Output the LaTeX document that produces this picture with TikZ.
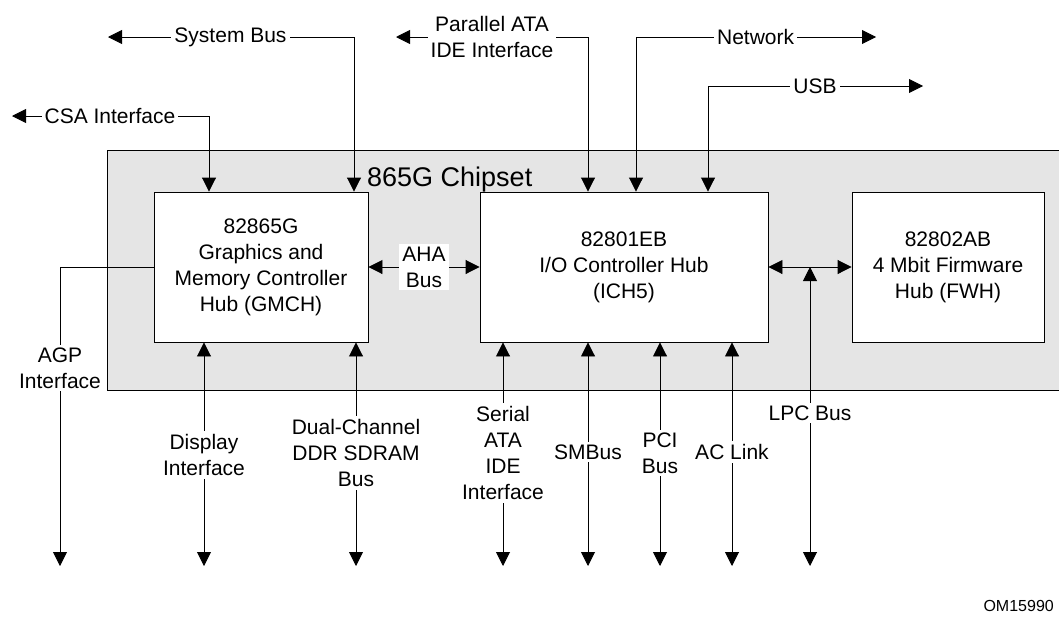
\documentclass[tikz,border=0pt]{standalone}
\usepackage{fontspec}
\setmainfont{Liberation Sans}
\usetikzlibrary{arrows.meta}
\definecolor{chipgray}{gray}{0.9}
\begin{document}
\begin{tikzpicture}[x=1pt,y=-1pt,
  conn/.style={line width=0.9pt, draw=black},
  tipend/.style={-{Triangle[length=14pt,width=14pt]}},
  dtip/.style={{Triangle[length=14pt,width=14pt]}-{Triangle[length=14pt,width=14pt]}},
  chip/.style={draw=black, line width=0.9pt, fill=white, align=center,
    font=\fontsize{21}{26}\selectfont, minimum height=150pt, inner sep=0pt},
  lbl/.style={fill=white, align=center, font=\fontsize{21}{26}\selectfont, inner sep=3pt},
]
\useasboundingbox (0,0) rectangle (1059,619);

% chipset region
\fill[chipgray] (107,150) rectangle (1059,390);
\draw[conn] (1059,150) -- (107,150) -- (107,390) -- (1059,390);
\node[font=\fontsize{27}{32}\selectfont, anchor=base west, inner sep=0pt] (title) at (367,186) {865G Chipset};

% chips
\node[chip, minimum width=214pt] (gmch) at (261,267) {82865G\\Graphics and\\Memory Controller\\Hub (GMCH)};
\node[chip, minimum width=288pt] (ich) at (624,267) {82801EB\\I/O Controller Hub\\(ICH5)};
\node[chip, minimum width=192pt] (fwh) at (948,267) {82802AB\\4 Mbit Firmware\\Hub (FWH)};

% top connectors
\coordinate (csaE) at (12,116);
\coordinate (csaK) at (209,116);
\draw[conn,dtip] (csaE) -- (csaK) -- (csaK |- gmch.north);
\node[lbl] (csa) at (110,116) {CSA Interface};

\coordinate (sysE) at (108,37);
\coordinate (sysK) at (354,37);
\draw[conn,dtip] (sysE) -- (sysK) -- (sysK |- gmch.north);
\node[lbl] (sys) at (230.5,37) {System Bus};

\coordinate (pataE) at (396,37);
\coordinate (pataK) at (588,37);
\draw[conn,dtip] (pataE) -- (pataK) -- (pataK |- ich.north);
\node[lbl] (pata) at (492,36.5) {Parallel ATA\\IDE Interface};

\coordinate (netE) at (876,37);
\coordinate (netK) at (636,37);
\draw[conn,dtip] (netE) -- (netK) -- (netK |- ich.north);
\node[lbl] (net) at (755.6,37) {Network};

\coordinate (usbE) at (923,86);
\coordinate (usbK) at (708,86);
\draw[conn,dtip] (usbE) -- (usbK) -- (usbK |- ich.north);
\node[lbl] (usb) at (815,86) {USB};

% inner buses
\draw[conn,dtip] (gmch.east) -- (ich.west);
\node[lbl] (aha) at (424,267) {AHA\\Bus};

\draw[conn,dtip] (ich.east) -- (fwh.west);
\coordinate (lpcE) at (810,566);
\draw[conn,dtip] (lpcE) -- (lpcE |- ich.east);
\node[lbl] (lpc) at (810,413) {LPC Bus};

% AGP
\coordinate (agpK) at (60,267);
\coordinate (agpE) at (60,566);
\draw[conn,tipend] (gmch.west) -- (agpK) -- (agpE);
\node[lbl] (agp) at (60,368) {AGP\\Interface};

% bottom connectors
\coordinate (dispE) at (204,566);
\draw[conn,dtip] (dispE) -- (dispE |- gmch.south);
\node[lbl] (disp) at (204,455) {Display\\Interface};

\coordinate (ddrE) at (356,566);
\draw[conn,dtip] (ddrE) -- (ddrE |- gmch.south);
\node[lbl] (ddr) at (356,453) {Dual-Channel\\DDR SDRAM\\Bus};

\coordinate (sataE) at (503,566);
\draw[conn,dtip] (sataE) -- (sataE |- ich.south);
\node[lbl] (sata) at (503,453) {Serial\\ATA\\IDE\\Interface};

\coordinate (smbE) at (588,566);
\draw[conn,dtip] (smbE) -- (smbE |- ich.south);
\node[lbl] (smb) at (588,452) {SMBus};

\coordinate (pciE) at (660,566);
\draw[conn,dtip] (pciE) -- (pciE |- ich.south);
\node[lbl] (pci) at (660,453) {PCI\\Bus};

\coordinate (acE) at (732,566);
\draw[conn,dtip] (acE) -- (acE |- ich.south);
\node[lbl] (ac) at (732,452) {AC Link};

\node[font=\fontsize{16}{19}\selectfont, anchor=base east, inner sep=0pt] (om) at (1054,611) {OM15990};
\end{tikzpicture}
\end{document}
